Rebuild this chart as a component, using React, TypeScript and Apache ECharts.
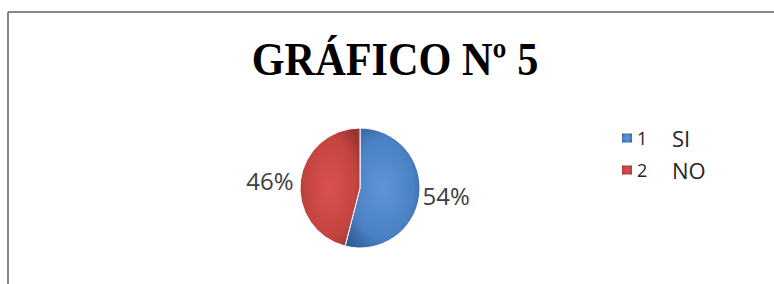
import React, { useEffect, useRef } from 'react';
import * as echarts from 'echarts';

const titleText = 'GRÁFICO Nº 5';
const categories = ['SI', 'NO'];
const codes = ['1', '2'];
const percentages = [54, 46];

export default function App() {
  const ref = useRef<HTMLDivElement>(null);
  useEffect(() => {
    const chart = echarts.init(ref.current!, null, { renderer: 'svg' });
    const blue = new echarts.graphic.RadialGradient(0.5, 0.5, 0.6, [
      { offset: 0, color: '#5f95d8' },
      { offset: 0.7, color: '#4a80c4' },
      { offset: 1, color: '#33609b' },
    ]);
    const red = new echarts.graphic.RadialGradient(0.5, 0.5, 0.6, [
      { offset: 0, color: '#d9534f' },
      { offset: 0.7, color: '#c4443f' },
      { offset: 1, color: '#9c3532' },
    ]);
    const colors = [blue, red];
    chart.setOption({
      animation: false,
      backgroundColor: '#ffffff',
      legend: {
        orient: 'vertical',
        left: 617,
        top: 121,
        icon: 'rect',
        itemWidth: 10,
        itemHeight: 9,
        itemGap: 8,
        itemStyle: { borderWidth: 0 },
        data: categories,
        formatter: (name: string) => `{n|${codes[categories.indexOf(name)]}}{s|${name}}`,
        textStyle: {
          fontFamily: 'Open Sans',
          fontSize: 22,
          lineHeight: 24,
          color: '#262626',
          rich: {
            n: { fontSize: 18, fontFamily: 'Open Sans', color: '#262626', width: 35, lineHeight: 24 },
            s: { fontSize: 22, fontFamily: 'Open Sans', color: '#262626', lineHeight: 24 },
          },
        },
      },
      graphic: [
        { type: 'line', shape: { x1: 8, y1: 12, x2: 774, y2: 12 }, style: { stroke: '#868686', lineWidth: 2 } },
        { type: 'line', shape: { x1: 8, y1: 12, x2: 8, y2: 284 }, style: { stroke: '#868686', lineWidth: 2 } },
        {
          type: 'text',
          x: 395,
          y: 60,
          scaleX: 0.92,
          style: {
            text: titleText,
            fontFamily: 'Liberation Serif',
            fontWeight: 'bold',
            fontSize: 46,
            fill: '#000000',
            textAlign: 'center',
            textVerticalAlign: 'middle',
          },
        },
      ],
      series: [
        {
          type: 'pie',
          center: [360, 188],
          radius: 60,
          startAngle: 90,
          clockwise: true,
          label: {
            show: true,
            position: 'outside',
            formatter: '{d}%',
            fontFamily: 'Open Sans',
            fontSize: 24,
            color: '#404040',
          },
          labelLine: { show: false, length: 2, length2: 0 },
          labelLayout: (params: any) => (params.dataIndex === 0 ? { dx: -4 } : {}),
          itemStyle: { borderColor: '#ffffff', borderWidth: 1 },
          data: categories.map((c, i) => ({ name: c, value: percentages[i], itemStyle: { color: colors[i] } })),
        },
      ],
    });
    return () => chart.dispose();
  }, []);
  return <div ref={ref} style={{ position: 'fixed', left: 0, top: 0, width: 774, height: 284 }} />;
}
